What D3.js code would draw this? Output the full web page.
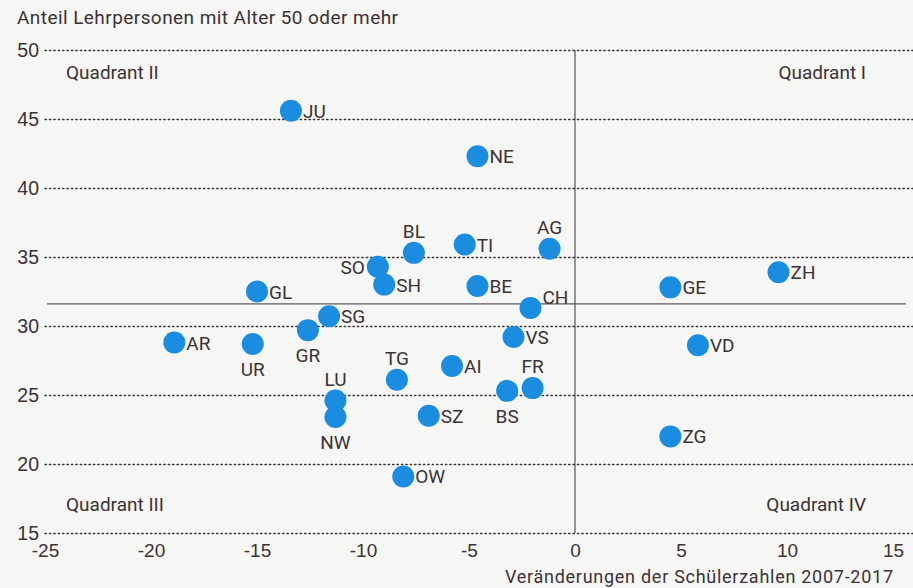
<!DOCTYPE html>
<html>
<head>
<meta charset="utf-8">
<script src="https://cdn.jsdelivr.net/npm/d3@7"></script>
<style>
  body { margin: 0; background: #f6f6f4; }
  svg { display: block; font-family: Roboto, "Noto Sans", sans-serif; }
</style>
</head>
<body>
<svg width="913" height="588"></svg>
<script>
// Kantone: Veraenderung Schuelerzahlen (x) vs. Anteil Lehrpersonen 50+ (y)
var cantons = ["JU", "NE", "AG", "TI", "BL", "SO", "SH", "BE", "ZH", "GE", "CH", "GL", "SG", "GR",
  "AR", "UR", "VS", "VD", "AI", "TG", "FR", "BS", "LU", "NW", "SZ", "ZG", "OW"];
var change = [-13.4, -4.6, -1.2, -5.2, -7.6, -9.3, -9.0, -4.6, 9.6, 4.5, -2.1, -15.0, -11.6, -12.6,
  -18.9, -15.2, -2.9, 5.8, -5.8, -8.4, -2.0, -3.2, -11.3, -11.3, -6.9, 4.5, -8.1];
var share = [45.6, 42.3, 35.6, 35.9, 35.3, 34.3, 33.0, 32.9, 33.9, 32.8, 31.3, 32.5, 30.7, 29.7,
  28.8, 28.7, 29.2, 28.6, 27.1, 26.1, 25.5, 25.3, 24.6, 23.4, 23.5, 22.0, 19.1];
var xTicks = [-25, -20, -15, -10, -5, 0, 5, 10, 15];
var yTicks = [15, 20, 25, 30, 35, 40, 45, 50];
var mean = 31.6;

// where the label sits next to the dot
var labelPos = { SO: "l", BL: "t", AG: "t", TG: "t", LU: "t", FR: "t",
  UR: "b", GR: "b", NW: "b", BS: "b", CH: "tr" };

var ink = "#3b3238", blue = "#1a8de0";
var fs = 19;
var svg = d3.select("svg");

var x = d3.scaleLinear().domain([-25, 15]).range([45, 893]);
var y = d3.scaleLinear().domain([15, 50]).range([533, 50]);

// dotted grid + y labels
svg.append("g")
  .attr("transform", "translate(45,0)")
  .call(d3.axisLeft(y).tickValues(yTicks).tickSize(-868).tickPadding(6))
  .call(function(g) {
    g.select(".domain").remove();
    g.selectAll("line").attr("stroke", ink).attr("stroke-width", 1.4)
      .attr("stroke-dasharray", "1.4,3").attr("stroke-linecap", "round");
    g.selectAll("text").attr("fill", ink).attr("font-size", 19.5).attr("font-family", null);
  });

// x labels
svg.append("g")
  .attr("transform", "translate(0,540)")
  .call(d3.axisBottom(x).tickValues(xTicks).tickSize(0).tickPadding(3)
    .tickFormat(function(d) { return String(d); }))
  .call(function(g) {
    g.select(".domain").remove();
    g.selectAll("text").attr("fill", ink).attr("font-size", fs).attr("font-family", null);
  });

// quadrant lines
svg.append("line")
  .attr("x1", x(0)).attr("x2", x(0)).attr("y1", y(50)).attr("y2", y(15))
  .attr("stroke", ink).attr("stroke-width", 1);
svg.append("line")
  .attr("x1", 47).attr("x2", 906).attr("y1", y(mean)).attr("y2", y(mean))
  .attr("stroke", ink).attr("stroke-width", 1);

// titles
svg.append("text").attr("x", 17).attr("y", 24).attr("fill", ink).attr("font-size", 19)
  .attr("textLength", 381).text("Anteil Lehrpersonen mit Alter 50 oder mehr");
svg.append("text").attr("x", 893).attr("y", 583).attr("fill", ink).attr("font-size", 18)
  .attr("text-anchor", "end").attr("textLength", 388).text("Veränderungen der Schülerzahlen 2007-2017");

var quad = [["Quadrant II", 66, 79, "start"], ["Quadrant I", 866, 79, "end"],
  ["Quadrant III", 66, 511, "start"], ["Quadrant IV", 866, 511, "end"]];
svg.selectAll(".quad").data(quad).enter().append("text")
  .attr("x", function(d) { return d[1]; }).attr("y", function(d) { return d[2]; })
  .attr("text-anchor", function(d) { return d[3]; })
  .attr("fill", ink).attr("font-size", fs).text(function(d) { return d[0]; });

// points
var pts = cantons.map(function(c, i) { return { name: c, x: change[i], y: share[i] }; });

svg.selectAll("circle").data(pts).enter().append("circle")
  .attr("cx", function(d) { return x(d.x); })
  .attr("cy", function(d) { return y(d.y); })
  .attr("r", 11)
  .attr("fill", blue);

svg.selectAll(".lbl").data(pts).enter().append("text")
  .attr("fill", ink).attr("font-size", fs)
  .attr("x", function(d) {
    var p = labelPos[d.name] || "r", cx = x(d.x);
    if (p === "l") return cx - 13;
    if (p === "t" || p === "b") return cx;
    return cx + 12;
  })
  .attr("y", function(d) {
    var p = labelPos[d.name] || "r", cy = y(d.y);
    if (p === "t") return cy - 15;
    if (p === "b") return cy + 32;
    if (p === "tr") return cy - 4;
    return cy + 7;
  })
  .attr("text-anchor", function(d) {
    var p = labelPos[d.name] || "r";
    if (p === "l") return "end";
    if (p === "t" || p === "b") return "middle";
    return "start";
  })
  .text(function(d) { return d.name; });
</script>
</body>
</html>
